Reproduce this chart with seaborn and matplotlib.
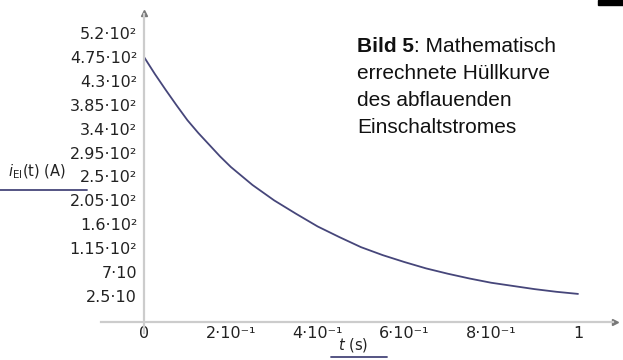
import numpy as np
import pandas as pd
import matplotlib
matplotlib.use("Agg")
import matplotlib.pyplot as plt
import seaborn as sns

# values (t in s, current in A)
t_s = [0, 0.025, 0.05, 0.075, 0.1, 0.125, 0.15, 0.175, 0.2, 0.25, 0.3,
       0.35, 0.4, 0.45, 0.5, 0.55, 0.6, 0.65, 0.7, 0.75, 0.8, 0.85, 0.9, 0.95, 1.0]
i_a = [475, 443, 413, 384, 356, 332, 310, 288, 268, 234, 205,
       180, 156, 136, 117, 102, 89, 77, 67, 58, 50, 44, 38, 33, 29]

y_ticks = [25, 70, 115, 160, 205, 250, 295, 340, 385, 430, 475, 520]
y_labels = ["2.5·10", "7·10", "1.15·10²", "1.6·10²", "2.05·10²", "2.5·10²",
            "2.95·10²", "3.4·10²", "3.85·10²", "4.3·10²", "4.75·10²", "5.2·10²"]
x_ticks = [0, 0.2, 0.4, 0.6, 0.8, 1.0]
x_labels = ["0", "2·10⁻¹", "4·10⁻¹", "6·10⁻¹", "8·10⁻¹", "1"]

caption_bold = "Bild 5"
caption_lines = [": Mathematisch", "errechnete Hüllkurve", "des abflauenden", "Einschaltstromes"]

df = pd.DataFrame({"t": t_s, "i": i_a})

sns.set_style("white")
plt.rcParams["font.family"] = ["DejaVu Sans"]

axis_col = "#cccccc"
curve_col = "#46467a"
x_cross = -24  # y value where the time axis sits

fig = plt.figure(figsize=(6.23, 3.6), dpi=100)
ax = fig.add_axes([0, 0, 1, 1])
ax.set_xlim(-0.3318, 1.1037)
ax.set_ylim(-95.4, 582.2)

sns.lineplot(data=df, x="t", y="i", color=curve_col, linewidth=1.3, ax=ax)

# axes through the origin, maple style
for s in ["top", "right"]:
    ax.spines[s].set_visible(False)
ax.spines["left"].set_position(("data", 0))
ax.spines["bottom"].set_position(("data", x_cross))
ax.spines["left"].set_bounds(-45, 555)
ax.spines["bottom"].set_bounds(-0.1, 1.08)
for s in ["left", "bottom"]:
    ax.spines[s].set_color(axis_col)
    ax.spines[s].set_linewidth(1.6)
ax.plot(1.085, x_cross, marker=">", color="#777777", markersize=4, clip_on=False)
ax.plot(0, 558, marker="^", color="#777777", markersize=4, clip_on=False)

ax.set_yticks(y_ticks)
ax.set_yticklabels(y_labels)
ax.set_xticks(x_ticks)
ax.set_xticklabels(x_labels)
ax.set_xticks(np.arange(-0.1, 1.05, 0.1), minor=True)
ax.tick_params(axis="both", which="both", direction="inout", length=4,
               color=axis_col, labelsize=11.5, labelcolor="#222222")
ax.tick_params(axis="y", pad=3)
ax.tick_params(axis="x", pad=1)
ax.set_xlabel("")
ax.set_ylabel("")

# axis names with their underline marks
ax.text(8 / 623, 1 - 176 / 360, r"$i_{\mathrm{EI}}$(t) (A)", transform=ax.transAxes,
        fontsize=10.5, color="#222222", va="baseline")
ax.plot([0, 87 / 623], [1 - 190 / 360] * 2, transform=ax.transAxes,
        color=curve_col, linewidth=1.3)
ax.text(353 / 623, 1 - 349 / 360, r"$t$ (s)", transform=ax.transAxes,
        fontsize=10.5, color="#222222", va="baseline", ha="center")
ax.plot([331 / 623, 387 / 623], [1 - 357 / 360] * 2, transform=ax.transAxes,
        color=curve_col, linewidth=1.3)

# caption
cap_font = ["Liberation Sans", "DejaVu Sans"]
cap_size = 15
baselines = [52, 79, 106, 133]
t0 = ax.text(357 / 623, 1 - baselines[0] / 360, caption_bold, transform=ax.transAxes,
             fontsize=cap_size, fontweight="bold", family=cap_font, va="baseline", color="#111111")
ax.annotate(caption_lines[0], xy=(1, 0), xycoords=t0, va="bottom",
            fontsize=cap_size, family=cap_font, color="#111111")
for line, b in zip(caption_lines[1:], baselines[1:]):
    ax.text(357 / 623, 1 - b / 360, line, transform=ax.transAxes,
            fontsize=cap_size, family=cap_font, va="baseline", color="#111111")

# black corner mark at the top right
ax.add_patch(plt.Rectangle((598 / 623, 1 - 5 / 360), 25 / 623, 5 / 360,
                           transform=ax.transAxes, color="black", clip_on=False))

fig.savefig("out.png", dpi=100)
